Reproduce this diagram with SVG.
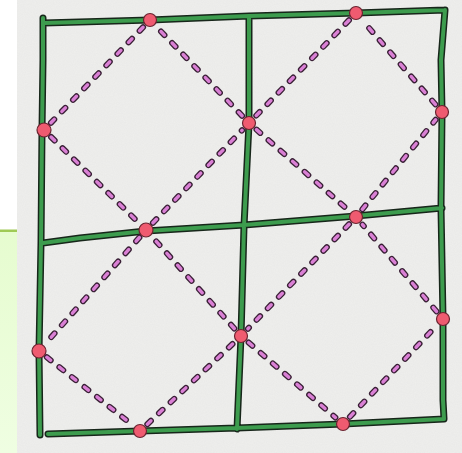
<svg xmlns="http://www.w3.org/2000/svg" width="462" height="453" viewBox="0 0 462 453">
  <defs>
    <linearGradient id="lg" x1="0" y1="0" x2="0" y2="1">
      <stop offset="0" stop-color="#e6fccf"/>
      <stop offset="1" stop-color="#effee2"/>
    </linearGradient>
    <filter id="tex" x="0" y="0" width="100%" height="100%">
      <feTurbulence type="fractalNoise" baseFrequency="0.9" numOctaves="2" seed="3" result="n"/>
      <feColorMatrix in="n" type="matrix" values="0 0 0 0 0.6  0 0 0 0 0.6  0 0 0 0 0.6  0 0 0 0.18 0" result="g"/>
      <feComposite in="g" in2="SourceGraphic" operator="in" result="c"/>
      <feMerge><feMergeNode in="SourceGraphic"/><feMergeNode in="c"/></feMerge>
    </filter>
  </defs>
  <style>
    .gOut{fill:none;stroke:#17261a;stroke-width:7;stroke-linecap:round;stroke-linejoin:round}
    .gIn{fill:none;stroke:#3d9c4e;stroke-width:4;stroke-linecap:round;stroke-linejoin:round}
    .dOut{fill:none;stroke:#3a2036;stroke-width:6;stroke-linecap:round;stroke-dasharray:5 11}
    .dIn{fill:none;stroke:#da80d5;stroke-width:3.4;stroke-linecap:round;stroke-dasharray:5 11}
    .dot{fill:#ef5b70;stroke:#6a2430;stroke-width:1.2}
  </style>
  <rect x="0" y="0" width="462" height="453" fill="#ffffff"/>
  <rect x="0" y="231" width="17" height="222" fill="url(#lg)"/>
  <rect x="0" y="229.5" width="17" height="2.5" fill="#9fca55"/>
  <rect x="17" y="0" width="445" height="453" fill="#efefed" filter="url(#tex)"/>

  <g id="grid">
    <path id="grid-outline" class="gOut" d="M44,23 L150,20 L249,16 L356,13 L445,10 M445,10 L441,60 L442,112 L441,208 L443,319 L443,400 L444,419 M48,434 L140,431 L237,428 L343,424 L444,419 M43,18 L43,60 L42,130 L41,243 L39,351 L40,435 M249,16 L249,123 L244,226 L241,336 L237,429 M43,243 L80,238 L146,231 L244,225 L356,216 L442,208"/>
    <path id="grid-fill" class="gIn" d="M44,23 L150,20 L249,16 L356,13 L445,10 M445,10 L441,60 L442,112 L441,208 L443,319 L443,400 L444,419 M48,434 L140,431 L237,428 L343,424 L444,419 M43,18 L43,60 L42,130 L41,243 L39,351 L40,435 M249,16 L249,123 L244,226 L241,336 L237,429 M43,243 L80,238 L146,231 L244,225 L356,216 L442,208"/>
  </g>

  <g id="connectors">
    <path class="dOut" d="M143.1,27.2 L50.9,122.8 M51.1,137 L138.9,223 M152.9,222.8 L242.1,130.2 M242.1,115.8 L156.9,27.2 M349,20.2 L256,115.8 M256.5,129.6 L348.5,210.4 M362.3,209.3 L435.7,119.7 M435.4,104.4 L362.6,20.6 M139.4,237.5 L45.6,343.5 M46.8,357.2 L132.2,424.8 M147.3,424.2 L233.7,342.9 M234.3,328.5 L152.7,237.5 M349.1,224.2 L247.9,328.8 M248.6,342.5 L335.4,417.5 M349.9,416.8 L436.1,326.2 M436.5,311.4 L362.5,224.6"/>
    <path class="dIn" d="M143.1,27.2 L50.9,122.8 M51.1,137 L138.9,223 M152.9,222.8 L242.1,130.2 M242.1,115.8 L156.9,27.2 M349,20.2 L256,115.8 M256.5,129.6 L348.5,210.4 M362.3,209.3 L435.7,119.7 M435.4,104.4 L362.6,20.6 M139.4,237.5 L45.6,343.5 M46.8,357.2 L132.2,424.8 M147.3,424.2 L233.7,342.9 M234.3,328.5 L152.7,237.5 M349.1,224.2 L247.9,328.8 M248.6,342.5 L335.4,417.5 M349.9,416.8 L436.1,326.2 M436.5,311.4 L362.5,224.6"/>
  </g>

  <g id="p1"><circle class="dot" cx="150" cy="20" r="6.5"/></g>
  <g id="p2"><circle class="dot" cx="356" cy="13" r="6.5"/></g>
  <g id="p3"><circle class="dot" cx="44" cy="130" r="7"/></g>
  <g id="p4"><circle class="dot" cx="249" cy="123" r="6.5"/></g>
  <g id="p5"><circle class="dot" cx="442" cy="112" r="6.5"/></g>
  <g id="p6"><circle class="dot" cx="146" cy="230" r="7"/></g>
  <g id="p7"><circle class="dot" cx="356" cy="217" r="6.5"/></g>
  <g id="p8"><circle class="dot" cx="39" cy="351" r="7"/></g>
  <g id="p9"><circle class="dot" cx="241" cy="336" r="6.5"/></g>
  <g id="p10"><circle class="dot" cx="443" cy="319" r="6.5"/></g>
  <g id="p11"><circle class="dot" cx="140" cy="431" r="6.5"/></g>
  <g id="p12"><circle class="dot" cx="343" cy="424" r="6.5"/></g>
</svg>
